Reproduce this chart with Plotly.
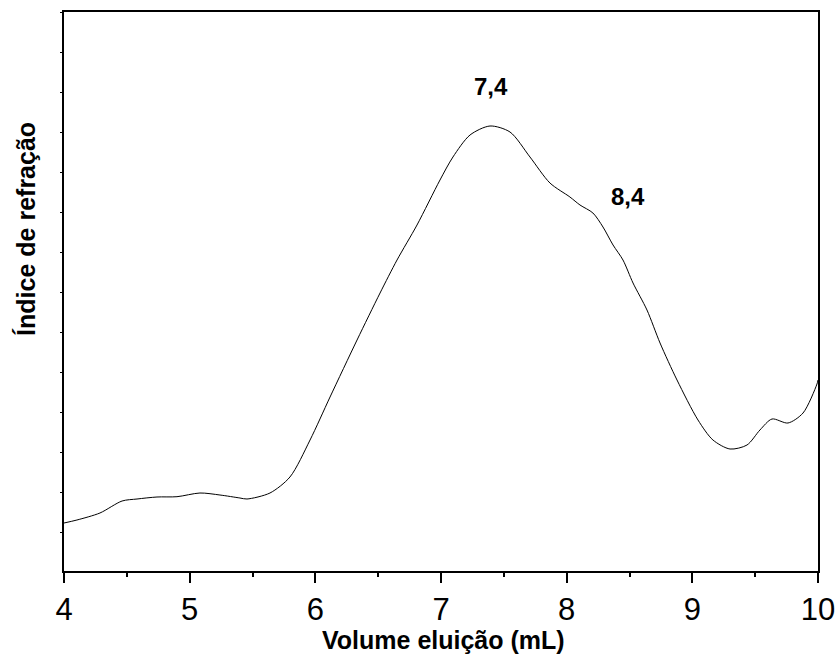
import plotly.graph_objects as go

# Elution volume (mL) and refractive-index detector signal (arbitrary units)
volume_ml = [4.000, 4.103, 4.286, 4.462, 4.581, 4.740, 4.899, 5.082, 5.241, 5.400,
             5.456, 5.639, 5.798, 5.958, 6.117, 6.332, 6.515, 6.650, 6.809,
             6.992, 7.095, 7.231, 7.390, 7.549, 7.708, 7.867, 8.026, 8.106, 8.209,
             8.289, 8.369, 8.448, 8.528, 8.639, 8.743, 8.878, 9.045, 9.164, 9.300,
             9.435, 9.538, 9.634, 9.761, 9.881, 9.992, 10.000]
ri_signal = [48, 51, 58, 70, 72, 74, 74.3, 78, 76, 73,
             72, 78, 94, 131, 174, 231, 278, 311, 346,
             391, 414, 436, 445, 439, 414, 388, 374, 366, 358,
             344, 326, 311, 288, 261, 228, 191, 151, 131, 122,
             126, 141, 152, 148, 158, 187, 191]

# Peak labels
peak_labels = ["7,4", "8,4"]
peak_x = [7.4, 8.49]
peak_y = [485, 375]

x_ticks = [4, 5, 6, 7, 8, 9, 10]

FONT = "Liberation Sans, Arial, sans-serif"

fig = go.Figure()
fig.add_trace(go.Scatter(
    x=volume_ml, y=ri_signal, mode="lines",
    line=dict(color="black", width=1, shape="spline", smoothing=0.8),
    showlegend=False, hoverinfo="skip",
))

for txt, px, py in zip(peak_labels, peak_x, peak_y):
    fig.add_annotation(x=px, y=py, text=f"<b>{txt}</b>", showarrow=False,
                       xanchor="center", yanchor="middle",
                       font=dict(family=FONT, size=24, color="black"))

fig.add_annotation(xref="paper", yref="paper", x=-0.0504, y=0.612,
                   text="<b>Índice de refração</b>", textangle=-90, showarrow=False,
                   xanchor="center", yanchor="middle",
                   font=dict(family=FONT, size=25, color="black"))
fig.add_annotation(xref="paper", yref="paper", x=0.503, y=-0.1234,
                   text="<b>Volume eluição (mL)</b>", showarrow=False,
                   xanchor="center", yanchor="middle",
                   font=dict(family=FONT, size=25, color="black"))

fig.update_xaxes(
    range=[4, 10], tickvals=x_ticks, ticktext=[str(v) for v in x_ticks],
    ticks="outside", ticklen=10, tickwidth=2, tickcolor="black",
    showline=True, linewidth=2, linecolor="black", mirror=True,
    showgrid=False, zeroline=False,
    tickfont=dict(family=FONT, size=31, color="black"),
    minor=dict(dtick=0.5, tick0=4, ticks="outside", ticklen=4, tickwidth=2,
               tickcolor="black", showgrid=False),
)
fig.update_yaxes(
    range=[0, 559], tick0=39, dtick=40, ticks="outside", ticklen=2, tickwidth=1,
    tickcolor="black", showticklabels=False,
    showline=True, linewidth=2, linecolor="black", mirror=True,
    showgrid=False, zeroline=False,
)

fig.update_layout(
    width=839, height=664,
    margin=dict(l=64, r=21, t=12, b=93, autoexpand=False),
    plot_bgcolor="white", paper_bgcolor="white",
    font=dict(family=FONT, color="black"),
)

fig.write_html("out.html")
